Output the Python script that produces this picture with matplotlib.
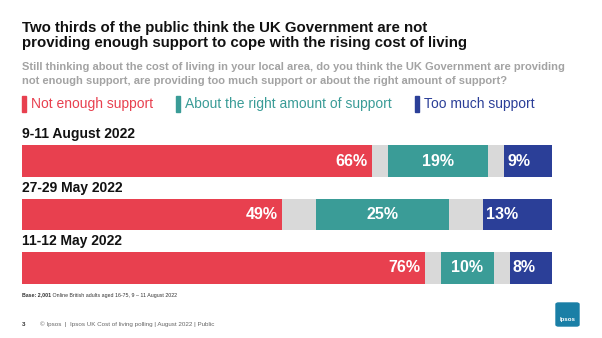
import matplotlib.pyplot as plt
from matplotlib.patches import FancyBboxPatch

plt.rcParams['font.family'] = ['Liberation Sans', 'DejaVu Sans']

waves = ['9-11 August 2022', '27-29 May 2022', '11-12 May 2022']
not_enough = [66, 49, 76]
about_right = [19, 25, 10]
too_much = [9, 13, 8]
dont_know_half = [3, 6.5, 3]

RED = '#E8404F'
TEAL = '#3A9C97'
BLUE = '#2B3F98'
GREY = '#D9D9D9'

W, H = 602, 338
fig = plt.figure(figsize=(W / 100, H / 100), dpi=100)


def fy(px):
    return 1 - px / H


def fx(px):
    return px / W


fig.text(fx(22), fy(50), 'Two thirds of the public think the UK Government are not\n'
         'providing enough support to cope with the rising cost of living',
         fontsize=10.8, fontweight='bold', color='#111111', va='bottom',
         linespacing=1.1)
fig.text(fx(22), fy(86), 'Still thinking about the cost of living in your local area, do you think the UK Government are providing\n'
         'not enough support, are providing too much support or about the right amount of support?',
         fontsize=8, fontweight='bold', color='#A3A3A3', va='bottom',
         linespacing=1.5)

legend_items = [('Not enough support', RED, 22),
                ('About the right amount of support', TEAL, 176),
                ('Too much support', BLUE, 415)]
for label, col, x0 in legend_items:
    fig.patches.append(plt.Rectangle((fx(x0), fy(112)), fx(4), 16 / H,
                                     transform=fig.transFigure, color=col))
    fig.text(fx(x0 + 9), fy(104), label, fontsize=10, color=col,
             va='center')

ax = fig.add_axes([fx(22), fy(294.75), fx(530), 160.5 / H])
pos = list(range(len(waves)))
bh = 0.58
left = [0] * len(waves)
segments = [(not_enough, RED), (dont_know_half, GREY), (about_right, TEAL),
            (dont_know_half, GREY), (too_much, BLUE)]
for vals, col in segments:
    ax.barh(pos, vals, left=left, height=bh, color=col, linewidth=0)
    left = [a + b for a, b in zip(left, vals)]

for i in pos:
    ax.text(not_enough[i] - 0.8, i, f'{not_enough[i]}%', color='white',
            fontsize=11.5, fontweight='bold', ha='right', va='center')
    tstart = not_enough[i] + dont_know_half[i]
    ax.text(tstart + about_right[i] / 2, i, f'{about_right[i]}%',
            color='white', fontsize=11.5, fontweight='bold', ha='center',
            va='center')
    bstart = tstart + about_right[i] + dont_know_half[i]
    ax.text(bstart + 0.6, i, f'{too_much[i]}%', color='white', fontsize=11.5,
            fontweight='bold', ha='left', va='center')
    ax.text(0, i - bh / 2 - 0.08, waves[i], fontsize=10, fontweight='bold',
            color='#111111', ha='left', va='bottom')

ax.set_xlim(0, 100)
ax.set_ylim(len(waves) - 0.5, -0.5)
ax.axis('off')

# base note: bold lead-in, then plain text right after it
base = fig.text(fx(22), fy(295), 'Base: 2,001', fontsize=3.8,
                fontweight='bold', color='#333333', va='center')
ax.annotate(' Online British adults aged 16-75, 9 \u2013 11 August 2022',
            xy=(1, 0.5), xycoords=base, fontsize=3.8, color='#333333',
            va='center', ha='left', annotation_clip=False)

fig.text(fx(22), fy(324), '3', fontsize=4.5, fontweight='bold',
         color='#333333', va='center')
fig.text(fx(40), fy(324), '\u00a9 Ipsos  |  Ipsos UK Cost of living polling | August 2022 | Public',
         fontsize=4.5, color='#666666', va='center')

logo = FancyBboxPatch((fx(556), fy(326)), fx(23), 23 / H,
                      boxstyle='round,pad=0,rounding_size=0.004',
                      transform=fig.transFigure, color='#1A7FA6')
fig.patches.append(logo)
fig.text(fx(567.5), fy(319), 'Ipsos', fontsize=4.4, fontweight='bold',
         color='white', ha='center', va='center')

fig.savefig('out.png', dpi=100)
